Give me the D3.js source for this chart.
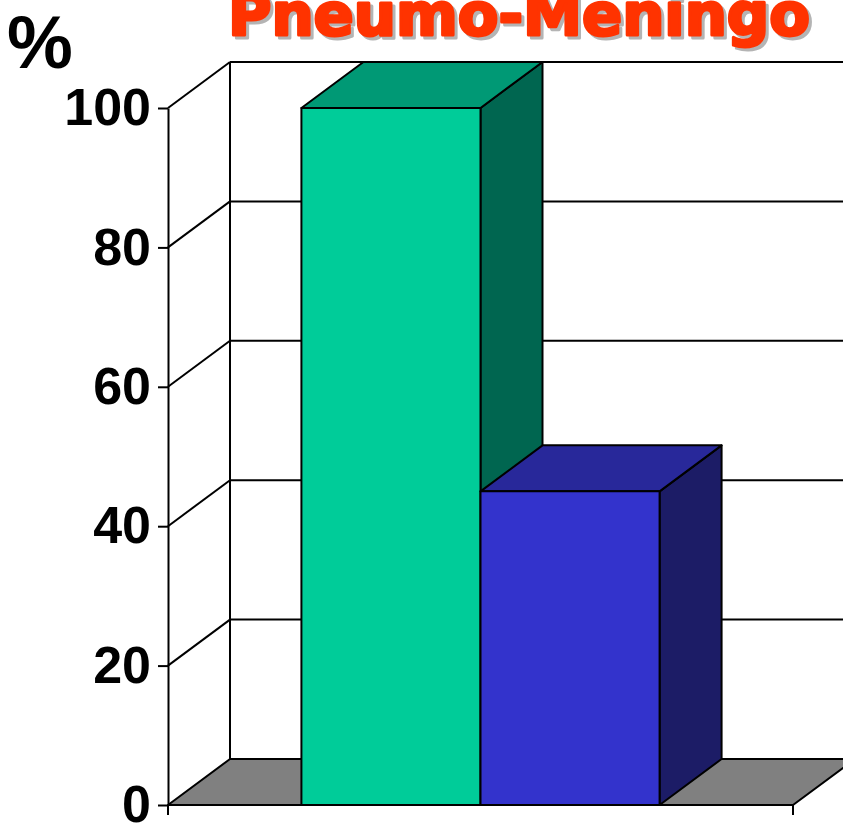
<!DOCTYPE html>
<html>
<head>
<meta charset="utf-8">
<script src="https://cdn.jsdelivr.net/npm/d3@7"></script>
<style>
  html, body { margin: 0; padding: 0; background: #fff; }
  svg { display: block; }
</style>
</head>
<body>
<svg id="chart" width="843" height="823"></svg>
<script>
// Data
const categories = ["Pneumo-Meningo"];
const seriesNames = ["A", "B"];
const seriesValues = [100, 45];
const tickValues = [0, 20, 40, 60, 80, 100];
const tickLabels = ["0", "20", "40", "60", "80", "100"];
const titleText = "Pneumo-Meningo";
const unitLabel = "%";

// Face colours per series: front, top, side
const faceColors = [
  { front: "#00CC99", top: "#009975", side: "#006650" },
  { front: "#3333CC", top: "#28289A", side: "#1C1C66" }
];

const svg = d3.select("#chart");
const W = 843, H = 823;

// Oblique depth offset for the 3D look
const DX = 62, DY = -46;

const y = d3.scaleLinear().domain([0, 100]).range([805, 108]);
const xCat = d3.scaleBand().domain(categories).range([168, 793]);
const xSeries = d3.scaleBand().domain(seriesNames)
  .range([xCat(categories[0]), xCat(categories[0]) + xCat.bandwidth()])
  .paddingInner(0).paddingOuter(0.745);

const x0 = xCat.range()[0], x1 = xCat.range()[1];
const line = d3.line();

// Back wall gridlines
svg.append("g").selectAll("line").data(tickValues.slice(1)).join("line")
  .attr("x1", x0 + DX).attr("x2", W + 20)
  .attr("y1", d => y(d) + DY).attr("y2", d => y(d) + DY)
  .attr("stroke", "#000").attr("stroke-width", 2);

// Left wall: diagonal gridlines and back vertical edge
svg.append("g").selectAll("line").data(tickValues.slice(1)).join("line")
  .attr("x1", x0).attr("y1", d => y(d))
  .attr("x2", x0 + DX).attr("y2", d => y(d) + DY)
  .attr("stroke", "#000").attr("stroke-width", 2);
svg.append("line")
  .attr("x1", x0 + DX).attr("x2", x0 + DX)
  .attr("y1", y(100) + DY).attr("y2", y(0) + DY)
  .attr("stroke", "#000").attr("stroke-width", 2);

// Floor
svg.append("path")
  .attr("d", line([[x0, y(0)], [x1, y(0)], [x1 + DX, y(0) + DY], [x0 + DX, y(0) + DY]]) + "Z")
  .attr("fill", "#808080").attr("stroke", "#000").attr("stroke-width", 2)
  .attr("stroke-linejoin", "round");

// Bars, drawn left to right so later bars overlap earlier side faces
const bars = svg.append("g");
seriesValues.forEach((v, i) => {
  const bx0 = xSeries(seriesNames[i]);
  const bx1 = bx0 + xSeries.bandwidth();
  const yt = y(v), yb = y(0);
  const c = faceColors[i];
  const g = bars.append("g")
    .attr("stroke", "#000").attr("stroke-width", 2).attr("stroke-linejoin", "round");
  g.append("path").attr("fill", c.side)
    .attr("d", line([[bx1, yt], [bx1 + DX, yt + DY], [bx1 + DX, yb + DY], [bx1, yb]]) + "Z");
  g.append("path").attr("fill", c.top)
    .attr("d", line([[bx0, yt], [bx1, yt], [bx1 + DX, yt + DY], [bx0 + DX, yt + DY]]) + "Z");
  g.append("path").attr("fill", c.front)
    .attr("d", line([[bx0, yt], [bx1, yt], [bx1, yb], [bx0, yb]]) + "Z");
});

// Value axis
const yAxis = d3.axisLeft(y)
  .tickValues(tickValues)
  .tickFormat((d, i) => tickLabels[i])
  .tickSize(10).tickSizeOuter(0).tickPadding(7);
const ag = svg.append("g").attr("transform", `translate(${x0},0)`).call(yAxis);
ag.select(".domain").attr("stroke", "#000").attr("stroke-width", 2);
ag.selectAll(".tick line").attr("stroke", "#000").attr("stroke-width", 2);
ag.selectAll(".tick text")
  .attr("fill", "#000")
  .style("font-family", "'Liberation Sans', Arial, sans-serif")
  .style("font-weight", "bold")
  .style("font-size", "52px");

// Category axis edge ticks
svg.append("g").selectAll("line").data(xCat.range()).join("line")
  .attr("x1", d => d).attr("x2", d => d)
  .attr("y1", y(0)).attr("y2", y(0) + 10)
  .attr("stroke", "#000").attr("stroke-width", 2);

// Unit label
svg.append("text")
  .attr("x", 40).attr("y", 68)
  .attr("text-anchor", "middle")
  .style("font-family", "'Liberation Sans', Arial, sans-serif")
  .style("font-weight", "bold")
  .style("font-size", "74px")
  .text(unitLabel);

// Title with drop shadow; a same-colour round stroke thickens the glyphs
const titleFont = "'DejaVu Sans', sans-serif";
[["#B4B4B4", 3], ["#FF3300", 0]].forEach(([col, off]) => {
  svg.append("text")
    .attr("x", 228 + off).attr("y", 35 + off)
    .attr("textLength", 582).attr("lengthAdjust", "spacingAndGlyphs")
    .style("font-family", titleFont)
    .style("font-weight", "bold")
    .style("font-size", "58px")
    .attr("fill", col)
    .attr("stroke", col).attr("stroke-width", 3).attr("stroke-linejoin", "round")
    .text(titleText);
});
</script>
</body>
</html>
